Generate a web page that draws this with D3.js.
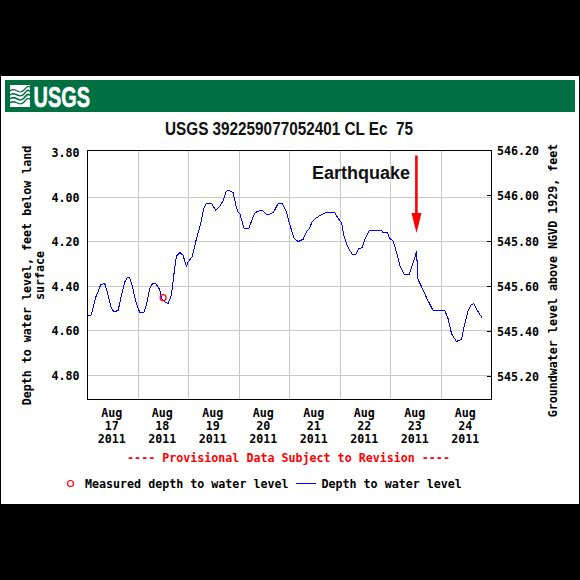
<!DOCTYPE html>
<html><head><meta charset="utf-8">
<script src="https://cdnjs.cloudflare.com/ajax/libs/d3/7.8.5/d3.min.js"></script>
<style>html,body{margin:0;padding:0;background:#000}svg{display:block}</style>
</head><body><svg id="c" width="580" height="580"></svg>
<script>
const hours=[0,1.6,2.4,3.8,5.05,6.3,8.2,9.8,11.4,12.7,14.6,16.1,17.7,18.8,20.1,21.4,23,24.85,26.75,28,29.6,30.9,32.45,34.35,35.15,36.7,38.3,39.9,41,42.3,43.9,45.4,47,47.8,49.7,51.8,53.4,55.3,56.5,58.9,61,62.9,64.45,66,67.1,69.2,70.5,71.3,72.4,74.4,76.65,78.7,79.8,81.9,83.5,85,86.6,88.5,90.6,92.5,94.5,95.8,98,100.1,102.5,104.1,105.6,106.7,108.8,111.2,113.6,117.5,119.1,120.7,122,123.9,125.9,127.5,128.9,130.5,131.8,133.8,139.7,140.5,142.5,143.65,145.2,146.8,148.4,150.5,152.8,154.3,156,156.3,156.8,157.1,158.7,161.1,164.2,169.8,171.4,173,175.3,177.7,179.3,180.9,182.5,183.6,184.8,186.4,187.5];
const depth=[4.532,4.532,4.509,4.452,4.426,4.392,4.389,4.441,4.501,4.516,4.509,4.441,4.381,4.363,4.363,4.404,4.471,4.519,4.519,4.486,4.411,4.389,4.389,4.416,4.456,4.471,4.479,4.441,4.351,4.264,4.249,4.261,4.311,4.291,4.269,4.186,4.134,4.051,4.028,4.028,4.059,4.041,4.016,3.973,3.968,3.98,4.036,4.063,4.074,4.141,4.141,4.089,4.069,4.06,4.062,4.077,4.077,4.066,4.028,4.028,4.066,4.111,4.182,4.2,4.189,4.156,4.138,4.111,4.093,4.078,4.069,4.069,4.096,4.114,4.179,4.228,4.258,4.258,4.231,4.228,4.189,4.152,4.15,4.159,4.159,4.186,4.197,4.246,4.306,4.348,4.348,4.306,4.261,4.242,4.314,4.371,4.401,4.452,4.509,4.509,4.547,4.614,4.649,4.64,4.569,4.509,4.482,4.479,4.501,4.527,4.542];
const measuredHours=[35.94], measuredDepth=[4.452];
const leftTicks=[3.8,4.0,4.2,4.4,4.6,4.8];
const rightTicks=[546.2,546.0,545.8,545.6,545.4,545.2];
const dayLabels=[17,18,19,20,21,22,23,24];
const MONO='"DejaVu Sans Mono",monospace';
const svg=d3.select('#c');
const L=87.5,R=491.5,T=150.5,B=399.5;
const x=d3.scaleLinear().domain([0,192]).range([L,R]);
const y=d3.scaleLinear().domain([3.79,4.91]).range([T,B]);
const y2=d3.scaleLinear().domain([546.2,545.1]).range([T,B]);
// page
svg.append('rect').attr('width',580).attr('height',580).attr('fill','#000');
svg.append('rect').attr('x',1).attr('y',76).attr('width',578).attr('height',428).attr('fill','#fff');
svg.append('rect').attr('x',5).attr('y',80).attr('width',570).attr('height',32).attr('fill','#006f41');
// logo
const logo=svg.append('g');
logo.append('rect').attr('x',10).attr('y',85).attr('width',20).attr('height',22).attr('fill','#fff');
[[91,1.2],[95,1.5],[99,1.7],[103,1.3]].forEach(([yy,w])=>{
 logo.append('path').attr('d',`M10 ${yy} C15 ${yy-5},19 ${yy+5},24 ${yy-1} S28 ${yy-4},30 ${yy-4}`).attr('fill','none').attr('stroke','#006f41').attr('stroke-width',w);
});
logo.append('text').attr('x',33.5).attr('y',106.5).attr('textLength',56.5).attr('lengthAdjust','spacingAndGlyphs')
 .attr('font-family','"Liberation Sans Narrow","Liberation Sans",sans-serif').attr('font-weight','bold').attr('font-size',30).attr('fill','#fff').attr('stroke','#fff').attr('stroke-width',0.6).text('USGS');
// title
svg.append('text').attr('x',165).attr('y',135).attr('textLength',248).attr('lengthAdjust','spacingAndGlyphs').style('white-space','pre')
 .attr('font-family','"Liberation Sans Narrow","Liberation Sans",sans-serif').attr('font-weight','bold').attr('font-size',19).attr('fill','#111').text('USGS 392259077052401 CL Ec  75');
// grid
const grid=svg.append('g').attr('stroke','#c8c8c8').attr('stroke-width',1).attr('shape-rendering','crispEdges');
d3.range(1,8).forEach(d=>grid.append('line').attr('x1',x(d*24)).attr('x2',x(d*24)).attr('y1',T).attr('y2',B));
leftTicks.slice(1).forEach(v=>grid.append('line').attr('x1',L).attr('x2',R).attr('y1',y(v)).attr('y2',y(v)));
// line
const line=d3.line().x((d,i)=>x(hours[i])).y((d,i)=>y(depth[i]));
svg.append('path').attr('d',line(depth)).attr('fill','none').attr('stroke','#0000ff').attr('stroke-width',1).attr('shape-rendering','crispEdges');
measuredHours.forEach((h,i)=>svg.append('circle').attr('cx',x(h)).attr('cy',y(measuredDepth[i])).attr('r',3).attr('fill','none').attr('stroke','#ff0000').attr('stroke-width',1.2));
// frame
svg.append('rect').attr('x',L).attr('y',T).attr('width',R-L).attr('height',B-T).attr('fill','none').attr('stroke','#000').attr('stroke-width',1).attr('shape-rendering','crispEdges');
const txt=(s,xx,yy,a,fill)=>svg.append('text').attr('x',xx).attr('y',yy).attr('text-anchor',a||'start').attr('font-family',MONO).attr('font-weight','bold').attr('font-size',11.67).attr('fill',fill||'#000').style('white-space','pre').text(s);
leftTicks.forEach(v=>txt(v.toFixed(2),79.5,y(v)+4.5,'end'));
rightTicks.forEach(v=>{
 txt(v.toFixed(2),497,y2(v)+4.5);
 if(v<546.2) svg.append('line').attr('x1',R-5).attr('x2',R).attr('y1',y2(v)).attr('y2',y2(v)).attr('stroke','#000').attr('shape-rendering','crispEdges');
});
dayLabels.forEach((d,i)=>{
 const cx=x(i*24+12)-1;
 txt('Aug',cx,417,'middle'); txt(String(d),cx,430,'middle'); txt('2011',cx,443,'middle');
});
txt('---- Provisional Data Subject to Revision ----',288.5,462,'middle','#ff0000');
txt('Measured depth to water level',85,488);
txt('Depth to water level',321.5,488);
svg.append('circle').attr('cx',70.5).attr('cy',483.5).attr('r',3).attr('fill','none').attr('stroke','#ff0000').attr('stroke-width',1.2);
svg.append('line').attr('x1',296).attr('x2',316).attr('y1',483.5).attr('y2',483.5).attr('stroke','#0000ff').attr('shape-rendering','crispEdges');
// axis titles
const vt=(s,xx,yy)=>svg.append('text').attr('transform',`translate(${xx},${yy}) rotate(-90)`).attr('text-anchor','middle').attr('font-family',MONO).attr('font-weight','bold').attr('font-size',11.67).attr('fill','#000').text(s);
vt('Depth to water level, feet below land',31,275.5);
vt('surface',44,275.5);
vt('Groundwater level above NGVD 1929, feet',557,280.5);
// annotation
svg.append('text').attr('x',312).attr('y',179).attr('font-family','"Liberation Sans",sans-serif').attr('font-weight','bold').attr('font-size',18).attr('fill','#111').text('Earthquake');
svg.append('line').attr('x1',416.4).attr('x2',416.4).attr('y1',155.5).attr('y2',214).attr('stroke','#ff0000').attr('stroke-width',2.6);
svg.append('path').attr('d','M411.5 213 L421.5 213 L416.5 233 Z').attr('fill','#ff0000');
</script></body></html>
